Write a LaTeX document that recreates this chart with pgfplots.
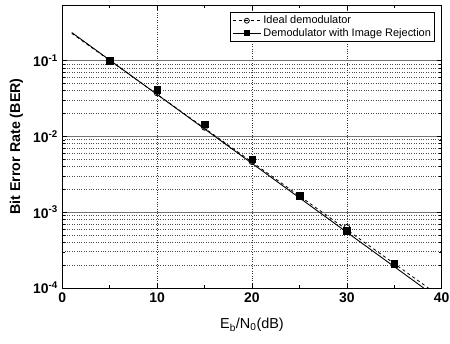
\documentclass[border=0pt]{standalone}
\usepackage{fontspec}
\setmainfont{Liberation Sans}
\usepackage{pgfplots}
\pgfplotsset{compat=1.18}
\begin{document}
\begin{tikzpicture}
\begin{axis}[
  name=ax,
  scale only axis, width=379.4bp, height=283bp,
  ymode=log, xmin=0, xmax=40, ymin=1e-4, ymax=0.54,
  xtick={0,10,20,30,40}, xticklabels={0,10,20,30,40},
  minor xtick={5,15,25,35},
  ytick={1e-4,1e-3,1e-2,1e-1},
  yticklabels={10\textsuperscript{-4},10\textsuperscript{-3},10\textsuperscript{-2},10\textsuperscript{-1}},
  tick align=inside,
  major tick length=5bp, minor tick length=3bp,
  every tick/.style={black, line width=0.6pt},
  xmajorgrids, ymajorgrids, yminorgrids,
  major x grid style={dotted, black!80, line width=0.7pt},
  major y grid style={solid, black!55, line width=0.8pt},
  minor y grid style={dotted, black!70, line width=0.7pt},
  axis line style={line width=0.9pt},
  ticklabel style={font=\fontsize{14}{16}\selectfont\bfseries},
  yticklabel style={xshift=-1bp},
  xticklabel style={yshift=-1bp},
  xlabel={E\textsubscript{b}/N\textsubscript{0}(dB)},
  ylabel={Bit Error Rate (BER)},
  xlabel style={font=\fontsize{14.5}{16}\selectfont, at={(axis description cs:0.5,-0.131)}, anchor=center},
  ylabel style={font=\fontsize{14.3}{16}\selectfont\bfseries, at={(axis description cs:-0.121,0.5)}, anchor=center},
  legend style={at={(0.982,0.975)}, anchor=north east,
    font=\fontsize{11}{13}\selectfont, draw=black, line width=0.9pt,
    inner sep=1.5pt, row sep=-1pt, fill=white},
  legend cell align=left,
  legend image code/.code={\draw[mark repeat=2,mark phase=2] plot coordinates {(0cm,0cm)(0.5cm,0cm)(1cm,0cm)};},
]
% Ideal demodulator: dashed line with open circles
\addplot[black, line width=0.8pt, dashed, forget plot] coordinates {
  (1,0.228) (38.6,1e-4)
};
\addplot[black, only marks, mark=o, mark size=3pt, mark options={solid, fill=white, line width=0.8pt}, forget plot] coordinates {
  (5,0.100) (10,0.0375) (15,0.0132) (20,0.00465) (25,0.00164) (30,0.00063) (35,0.000205)
};
% Demodulator with image rejection: solid line with filled squares
\addplot[black, line width=0.9pt, solid, forget plot] coordinates {
  (1,0.234) (38.1,1e-4)
};
\addplot[black, only marks, mark=square*, mark size=3.3pt, forget plot] coordinates {
  (5,0.100) (10,0.0415) (15,0.0144) (20,0.0050) (25,0.00166) (30,0.00057) (35,0.00021)
};
\addlegendimage{black, line width=0.8pt, dashed, mark=o, mark size=2.5pt, mark options={solid, fill=white}}
\addlegendentry{Ideal demodulator}
\addlegendimage{black, line width=0.8pt, solid, mark=square*, mark size=2.5pt}
\addlegendentry{Demodulator with Image Rejection}
\end{axis}
\pgfresetboundingbox
\path[use as bounding box] ([shift={(-62.3bp,-55bp)}]ax.south west) rectangle ([shift={(8.3bp,5bp)}]ax.north east);
\end{tikzpicture}
\end{document}
